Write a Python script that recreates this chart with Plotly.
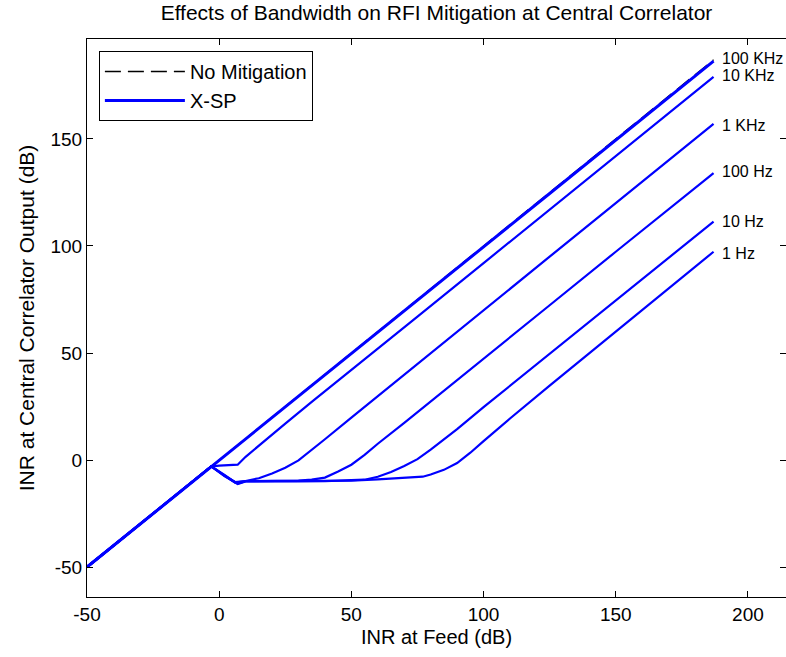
import plotly.graph_objects as go

# ---- data ----
nomit_x = [-50, 187]
nomit_y = [-50, 187]

bw_labels = ["100 KHz", "10 KHz", "1 KHz", "100 Hz", "10 Hz", "1 Hz"]

x_100k = [-50, -3, 0, 10, 25, 50, 75, 100, 125, 150, 175, 187]
y_100k = [-50, -3, -0.3, 9.7, 24.7, 49.7, 74.6, 99.6, 124.5, 149.4, 174.3, 186.4]

x_10k = [-50, -3, 0, 7, 10, 15, 25, 35, 50, 75, 100, 125, 150, 175, 187]
y_10k = [-50, -3, -2.6, -2.2, 1.5, 6.8, 17, 27.2, 42, 67, 92, 117, 142, 167, 179]

x_1k = [-50, -3, 2, 6, 10, 15, 20, 25, 30, 35, 40, 50, 75, 100, 125, 150, 175, 187]
y_1k = [-50, -3, -7, -10.3, -9.8, -8.5, -6.3, -3.6, -0.2, 4.6, 9.7, 19.8, 45, 70, 95, 120, 145, 157]

x_100 = [-50, -3, 2, 6, 10, 20, 30, 35, 40, 45, 50, 55, 60, 70, 80, 100, 125, 150, 175, 187]
y_100 = [-50, -3, -7.2, -10.5, -9.9, -9.8, -9.6, -9.2, -8.2, -5.4, -2.2, 2.4, 7.6, 17.4, 27.3, 47.3, 72.3, 97.3, 122.2, 134]

x_10 = [-50, -3, 2, 7, 10, 20, 30, 40, 50, 55, 60, 65, 70, 75, 80, 90, 100, 125, 150, 175, 187]
y_10 = [-50, -3, -7.5, -11.2, -10, -10.1, -10, -9.9, -9.6, -9.2, -7.8, -5.6, -2.8, 0.4, 4.8, 14.4, 24.7, 49.6, 74.5, 99.5, 111.4]

x_1 = [-50, -3, 2, 7, 10, 20, 30, 40, 50, 60, 70, 77, 80, 85, 90, 95, 100, 110, 125, 150, 175, 187]
y_1 = [-50, -3, -7.4, -11, -9.9, -9.8, -10, -9.9, -9.6, -9.0, -8.4, -7.8, -6.8, -4.6, -1.4, 3.4, 8.8, 19.4, 34.8, 60, 85.2, 97.3]

series_x = [x_100k, x_10k, x_1k, x_100, x_10, x_1]
series_y = [y_100k, y_10k, y_1k, y_100, y_10, y_1]

label_x = 189.3
label_y = [187.4, 179.8, 156.5, 134.7, 111.4, 96.7]

x_ticks = [-50, 0, 50, 100, 150, 200]
y_ticks = [-50, 0, 50, 100, 150]

FONT = "Liberation Sans, Arial, Helvetica, sans-serif"

fig = go.Figure()

fig.add_trace(go.Scatter(
    x=nomit_x, y=nomit_y, mode="lines", name="No Mitigation",
    line=dict(color="black", width=1.3, dash="16px,7px"),
))

for i, (xs, ys) in enumerate(zip(series_x, series_y)):
    fig.add_trace(go.Scatter(
        x=xs, y=ys, mode="lines", name="X-SP",
        legendgroup="xsp", showlegend=(i == 0),
        line=dict(color="#0000FF", width=(3 if i == 0 else 2.2)),
    ))

for lab, ly in zip(bw_labels, label_y):
    fig.add_annotation(x=label_x, y=ly, text=lab, showarrow=False,
                       xanchor="left", yanchor="middle",
                       font=dict(family=FONT, size=16, color="black"))

axis_common = dict(
    showgrid=False, zeroline=False, showline=True, linecolor="black",
    linewidth=1, mirror="ticks", ticks="inside", ticklen=6,
    tickcolor="black", tickfont=dict(family=FONT, size=19, color="black"),
)

fig.update_xaxes(range=[-50, 214.4], tickvals=x_ticks,
                 ticktext=[str(v) for v in x_ticks],
                 title=dict(text="INR at Feed (dB)", standoff=6,
                            font=dict(family=FONT, size=20, color="black")),
                 **axis_common)
fig.update_yaxes(range=[-64.0, 196.7], tickvals=y_ticks,
                 ticktext=[str(v) for v in y_ticks],
                 title=dict(text="INR at Central Correlator Output (dB)", standoff=10,
                            font=dict(family=FONT, size=21, color="black")),
                 **axis_common)

fig.update_layout(
    width=786, height=657,
    margin=dict(l=87, r=0, t=39, b=60, autoexpand=False),
    paper_bgcolor="white", plot_bgcolor="white",
    font=dict(family=FONT, color="black"),
    title=dict(text="Effects of Bandwidth on RFI Mitigation at Central Correlator",
               xref="paper", x=0.5, xanchor="center",
               yref="container", y=1 - 13 / 657, yanchor="middle",
               font=dict(family=FONT, size=21, color="black")),
    legend=dict(x=0.017, y=0.9785, xanchor="left", yanchor="top",
                bgcolor="white", bordercolor="black", borderwidth=1,
                font=dict(family=FONT, size=20, color="black"),
                itemwidth=80, tracegroupgap=0),
    showlegend=True,
)

fig.write_html("out.html")
